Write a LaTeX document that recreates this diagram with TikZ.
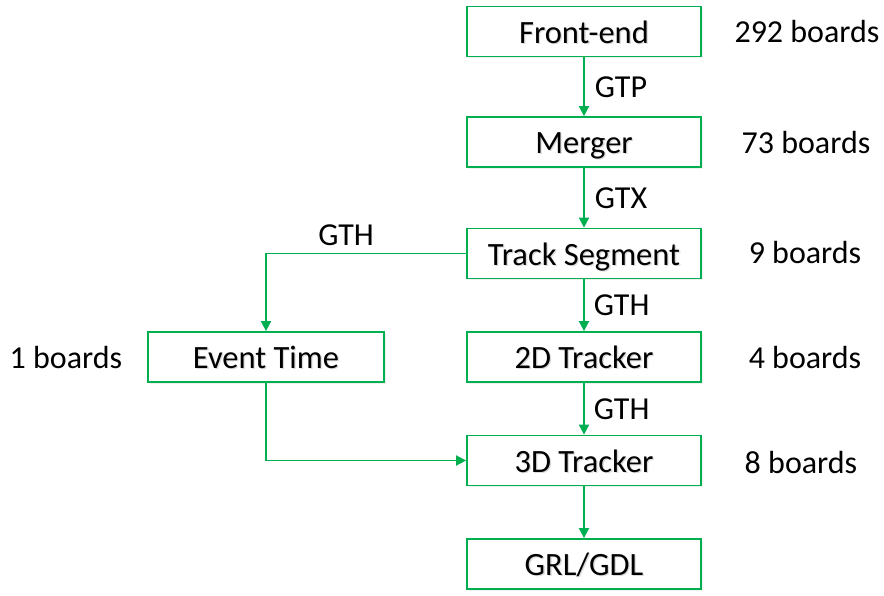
\documentclass[tikz,border=0pt]{standalone}
\usepackage{fontspec}
\setmainfont{Carlito}
\usetikzlibrary{arrows.meta,shadows}
\definecolor{linkgreen}{HTML}{00B050}
% box caption with a soft offset shadow, baseline placed below the box centre
\newcommand{\shadowtext}[1]{\raisebox{-11.5pt}[0pt][0pt]{\makebox[0pt][l]{\raisebox{-1.3pt}{\hspace{1.3pt}\textcolor{black!14}{#1}}}#1}}
\tikzset{
  stage/.style={draw=linkgreen, line width=1.8pt, fill=white, minimum width=234pt, minimum height=50pt,
    inner sep=0pt, font=\fontsize{32.5}{38}\selectfont,
    drop shadow={opacity=0.12, shadow xshift=1.5pt, shadow yshift=-1.5pt}},
  link/.style={draw=linkgreen, line width=1.8pt, -{Triangle[width=10pt,length=10pt]}},
  tag/.style={font=\fontsize{32}{38}\selectfont, inner sep=0pt},
}
\begin{document}
\begin{tikzpicture}[x=1pt,y=-1pt]
\useasboundingbox (0,0) rectangle (884,595);
% processing stages
\node[stage] (fe)  at (584,31.5)  {\shadowtext{Front-end}};
\node[stage] (mg)  at (584,142)   {\shadowtext{Merger}};
\node[stage] (ts)  at (584,253.5) {\shadowtext{Track Segment}};
\node[stage] (t2)  at (584,357)   {\shadowtext{2D Tracker}};
\node[stage] (t3)  at (584,460.5) {\shadowtext{3D Tracker}};
\node[stage] (gl)  at (584,564)   {\shadowtext{GRL/GDL}};
\node[stage, minimum width=236pt] (et) at (266,357) {\shadowtext{Event Time}};
% board counts
\node[tag] (n1) at (807,32)  {292 boards};
\node[tag] (n2) at (806,143) {73 boards};
\node[tag] (n3) at (805,253) {9 boards};
\node[tag] (n4) at (805,358) {4 boards};
\node[tag] (n5) at (801,463) {8 boards};
\node[tag] (n6) at (66,358)  {1 boards};
% links
\draw[link] (fe) -- (mg) node[tag, midway, right=10pt] {GTP};
\draw[link] (mg) -- (ts) node[tag, midway, right=10pt] {GTX};
\draw[link] (ts) -- (t2) node[tag, midway, right=9pt] {GTH};
\draw[link] (t2) -- (t3) node[tag, midway, right=9pt] {GTH};
\draw[link] (t3) -- (gl);
\draw[link] (ts.west) -| (et.north) node[tag, pos=0.3, above=7pt] {GTH};
\draw[link] (et.south) |- (t3.west);
\end{tikzpicture}
\end{document}
